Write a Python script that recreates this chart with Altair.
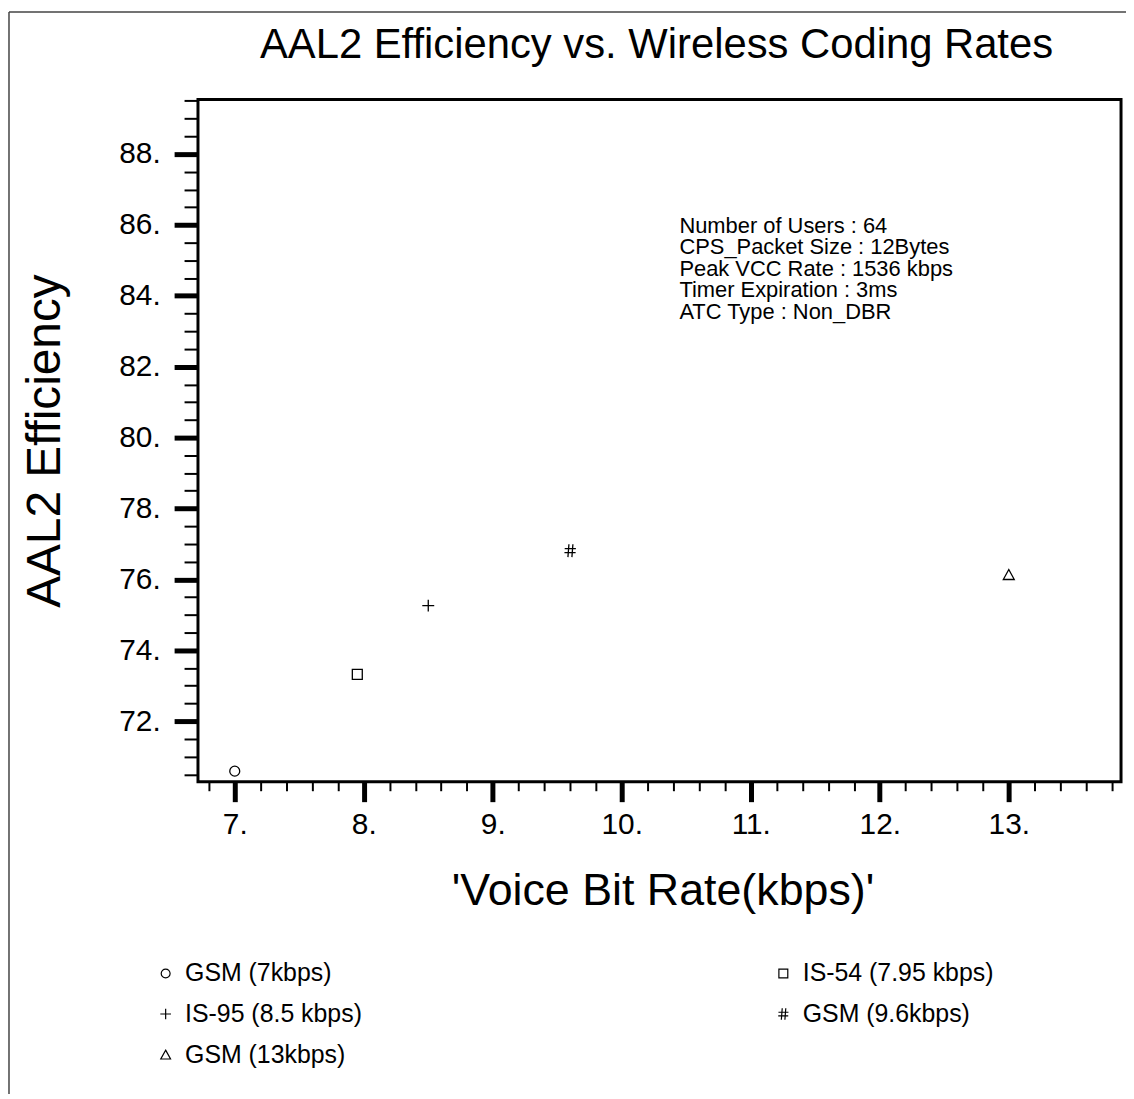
import altair as alt
import pandas as pd

# ---------------- data ----------------
codecs = ["GSM (7kbps)", "IS-54 (7.95 kbps)", "IS-95 (8.5 kbps)", "GSM (9.6kbps)", "GSM (13kbps)"]
voice_rates = [7.0, 7.95, 8.5, 9.6, 13.0]
efficiencies = [70.59, 73.32, 75.26, 76.81, 76.13]

x_major_ticks = [7, 8, 9, 10, 11, 12, 13]
y_major_ticks = [72, 74, 76, 78, 80, 82, 84, 86, 88]
x_minor_ticks = [round(6.8 + 0.2 * i, 1) for i in range(36)]
y_minor_ticks = [70.5 + 0.5 * i for i in range(39)]

annotation_lines = [
    "Number of Users : 64",
    "CPS_Packet Size : 12Bytes",
    "Peak VCC Rate : 1536 kbps",
    "Timer Expiration : 3ms",
    "ATC Type : Non_DBR",
]
chart_title = "AAL2 Efficiency vs. Wireless Coding Rates"
x_title = "'Voice Bit Rate(kbps)'"
y_title = "AAL2 Efficiency"

# ---------------- style ----------------
FONT = "Liberation Sans"
X_DOMAIN = [6.715, 13.87]
Y_DOMAIN = [70.29, 89.54]
marker_path = {
    "GSM (7kbps)": "circle",
    "IS-54 (7.95 kbps)": "square",
    "IS-95 (8.5 kbps)": "M-1.2,0H1.2M0,-1.2V1.2",
    "GSM (9.6kbps)": "M-0.25,-1.3L-0.45,1.3M0.55,-1.3L0.35,1.3M-1.1,-0.4H1.15M-1.15,0.4H1.1",
    "GSM (13kbps)": "M0,-1.05L1.1,0.95L-1.1,0.95Z",
}
# legend is filled column by column: left column first, then right column
legend_order = [codecs[0], codecs[2], codecs[4], codecs[1], codecs[3]]

df = pd.DataFrame({"codec": codecs, "rate": voice_rates, "eff": efficiencies})
one_row = pd.DataFrame({"k": [0]})

x_scale = alt.Scale(domain=X_DOMAIN, nice=False, zero=False)
y_scale = alt.Scale(domain=Y_DOMAIN, nice=False, zero=False)

minor = alt.Chart(df).mark_point(opacity=0).encode(
    x=alt.X("rate:Q", scale=x_scale, axis=alt.Axis(
        orient="bottom", values=x_minor_ticks, labels=False, tickSize=9, tickWidth=2,
        tickColor="black", domain=False, grid=False, title="", zindex=1)),
    y=alt.Y("eff:Q", scale=y_scale, axis=alt.Axis(
        orient="left", values=y_minor_ticks, labels=False, tickSize=14, tickWidth=2,
        tickColor="black", domain=False, grid=False, title="", zindex=1)),
)

points = alt.Chart(df).mark_point(
    filled=False, color="black", strokeWidth=1.3, size=100, opacity=1
).encode(
    x=alt.X("rate:Q", scale=x_scale, axis=alt.Axis(
        orient="bottom", values=x_major_ticks, labelExpr="datum.value + '.'",
        labelFontSize=30, labelFont=FONT, labelColor="black", labelPadding=8,
        tickSize=20, tickWidth=5, tickColor="black", domain=False, grid=False,
        title=x_title, titleFont=FONT, titleFontSize=45, titleFontWeight="normal",
        titleColor="black", titleX=467, titleY=123, titleAlign="center",
        titleBaseline="alphabetic", zindex=2)),
    y=alt.Y("eff:Q", scale=y_scale, axis=alt.Axis(
        orient="left", values=y_major_ticks, labelExpr="datum.value + '.'",
        labelFontSize=30, labelFont=FONT, labelColor="black", labelPadding=14,
        tickSize=24, tickWidth=5, tickColor="black", domain=False, grid=False,
        title=y_title, titleFont=FONT, titleFontSize=48, titleFontWeight="normal",
        titleColor="black", titleX=-153, titleY=343, titleAngle=270,
        titleAlign="center", titleBaseline="middle", zindex=2)),
    shape=alt.Shape("codec:N",
                    scale=alt.Scale(domain=legend_order,
                                    range=[marker_path[c] for c in legend_order]),
                    legend=alt.Legend(
                        orient="none", legendX=-45, legendY=866, columns=2,
                        columnPadding=411, rowPadding=15, padding=0,
                        labelFontSize=25, labelFont=FONT, labelColor="black",
                        labelLimit=400, labelOffset=7, symbolSize=80,
                        symbolStrokeColor="black", symbolStrokeWidth=1.2,
                        symbolFillColor="transparent", title=None)),
)

annotation = alt.Chart(one_row).mark_text(
    align="left", baseline="alphabetic", font=FONT, fontSize=22, lineHeight=21.7,
    color="black", text=annotation_lines
).encode(x=alt.value(484), y=alt.value(134))

border_left = alt.Chart(one_row).mark_rule(color="#444", strokeWidth=1.5).encode(
    x=alt.value(-190), y=alt.value(-88), y2=alt.value(1000))
border_top = alt.Chart(one_row).mark_rule(color="#444", strokeWidth=1.5).encode(
    x=alt.value(-190), x2=alt.value(940), y=alt.value(-88))

chart = alt.layer(border_left, border_top, minor, points, annotation).resolve_axis(
    x="independent", y="independent"
).properties(
    width=928, height=686,
    title=alt.TitleParams(chart_title, font=FONT, fontSize=42, fontWeight="normal",
                          color="black", anchor="middle", frame="group", offset=-89,
                          baseline="alphabetic", dx=-3),
    padding={"left": 191, "top": 89, "right": 5, "bottom": 312},
    autosize=alt.AutoSizeParams(type="none"),
).configure_view(stroke="black", strokeWidth=3)

chart.save("out.html", embed_options={"renderer": "svg", "actions": False})
